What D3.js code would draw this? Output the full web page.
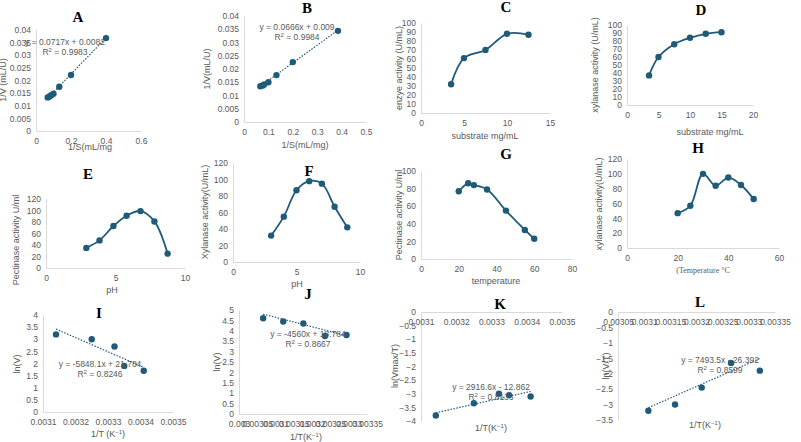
<!DOCTYPE html>
<html><head><meta charset="utf-8">
<script src="https://cdn.jsdelivr.net/npm/d3@7"></script>
<style>body{margin:0;background:#fff}svg{display:block}</style>
</head><body>
<script>
// ---- data ----
const aX=[0.067,0.077,0.087,0.1,0.133,0.2,0.4], aY=[0.0133,0.0137,0.0142,0.0148,0.0175,0.0222,0.0368];
const bX=[0.067,0.077,0.083,0.1,0.133,0.2,0.385], bY=[0.0135,0.0138,0.0142,0.015,0.0177,0.0226,0.0344];
const cX=[3.5,5,7.5,10,12.5], cY=[32,61,70,88,87];
const dX=[3.5,5,7.5,10,12.5,15], dY=[37,60,76,84,89,91];
const eX=[2.9,3.85,4.85,5.8,6.8,7.8,8.75], eY=[35,48,73,91,99,81,25];
const fX=[3,4,5,6,7,8,9], fY=[32,55,87,98,95,67,42];
const gX=[20,25,28,35,45,55,60], gY=[77,86,84,79,55,33,23];
const hX=[20,25,30,35,40,45,50], hY=[47,57,100,84,95,85,66];
const iX=[0.00314,0.00325,0.00332,0.00335,0.00341], iY=[3.2,3.0,2.7,1.9,1.7];
const jX=[0.003066,0.003121,0.003176,0.003235,0.003294], jY=[4.6,4.45,4.35,3.75,3.8];
const kX=[0.003142,0.00325,0.003321,0.00335,0.003411], kY=[-3.8,-3.35,-3.0,-3.05,-3.1];
const lX=[0.003108,0.003159,0.00321,0.003266,0.003321], lY=[-3.2,-3.0,-2.45,-1.65,-1.9];
const aTicksX=[0,0.2,0.4,0.6], aTicksY=[0,0.005,0.01,0.015,0.02,0.025,0.03,0.035,0.04];
const bTicksX=[0,0.1,0.2,0.3,0.4,0.5];
const cTicksX=[0,5,10,15], dTicksX=[0,5,10,15,20], pct100=[0,10,20,30,40,50,60,70,80,90,100];
const phTicks=[0,5,10], t120=[0,20,40,60,80,100,120], t100=[0,20,40,60,80,100];
const gTicksX=[0,20,40,60,80], hTicksX=[0,20,40,60];
const iTicksX=[0.0031,0.0032,0.0033,0.0034,0.0035], iTicksY=[0,0.5,1,1.5,2,2.5,3,3.5,4];
const jTicksX=[0.003,0.00305,0.0031,0.00315,0.0032,0.00325,0.0033,0.00335], jTicksY=[0,0.5,1,1.5,2,2.5,3,3.5,4,4.5,5];
const kTicksY=[-4,-3.5,-3,-2.5,-2,-1.5,-1,-0.5,0], lTicksX=[0.00305,0.0031,0.00315,0.0032,0.00325,0.0033,0.00335], lTicksY=[-3.5,-3,-2.5,-2,-1.5,-1,-0.5,0];
const trendA=[0.0717,0.0082], trendB=[0.0666,0.009], trendI=[-5848.1,21.784], trendJ=[-4560,18.784], trendK=[2916.6,-12.862], trendL=[7493.5,-26.392];

const C="#1f5b78", GR="#595959";
const svg=d3.select("body").append("svg").attr("width",801).attr("height",442).style("font-family","Liberation Sans, Arial");

function panel(o){
  const x=d3.scaleLinear().domain(o.xd).range([o.l,o.r]);
  const y=d3.scaleLinear().domain(o.yd).range([o.b,o.t]);
  const g=svg.append("g");
  const ya=g.append("g").attr("transform",`translate(${o.l},0)`).call(d3.axisLeft(y).tickValues(o.yt).tickSize(0).tickPadding(5).tickFormat(d=>d3.format("")(+d.toFixed(4))));
  const xa=g.append("g").attr("transform",`translate(0,${y(o.xAt||0)})`).call(d3.axisBottom(x).tickValues(o.xt).tickSize(0).tickPadding(o.xpad||7).tickFormat(d=>d3.format("")(+d.toFixed(5))));
  [ya,xa].forEach(a=>{a.select(".domain").attr("stroke","#d9d9d9");a.selectAll("text").attr("fill",GR).style("font-size","8.5px").style("font-family","Liberation Sans, Arial");});
  if(o.curve){g.append("path").datum(o.X.map((v,i)=>[v,o.Y[i]])).attr("fill","none").attr("stroke",C).attr("stroke-width",1.8)
    .attr("d",d3.line().x(d=>x(d[0])).y(d=>y(d[1])).curve(d3.curveCatmullRom.alpha(0.5)));}
  if(o.trend){const x0=d3.min(o.X),x1=d3.max(o.X);
    g.append("line").attr("x1",x(x0)).attr("x2",x(x1)).attr("y1",y(o.trend[0]*x0+o.trend[1])).attr("y2",y(o.trend[0]*x1+o.trend[1]))
      .attr("stroke",C).attr("stroke-width",1.2).attr("stroke-dasharray","1.5,1.5");}
  g.selectAll("circle").data(o.X).join("circle").attr("cx",d=>x(d)).attr("cy",(d,i)=>y(o.Y[i])).attr("r",3.2).attr("fill",C);
  if(o.eq){g.append("text").attr("x",o.eq[0]).attr("y",o.eq[1]).attr("text-anchor","middle").attr("fill",GR).style("font-size","8.5px").text(o.eq[2]);
    const r=g.append("text").attr("x",o.eq[0]).attr("y",o.eq[1]+10).attr("text-anchor","middle").attr("fill",GR).style("font-size","8.5px");
    r.append("tspan").text("R");r.append("tspan").attr("dy",-3).style("font-size","6px").text("2");r.append("tspan").attr("dy",3).text(" = "+o.eq[3]);}
  g.append("text").attr("x",o.title[0]).attr("y",o.title[1]).attr("text-anchor","middle").style("font-family","Liberation Serif, Times New Roman").style("font-weight","bold").style("font-size","15px").text(o.title[2]);
  const xl=g.append("text").attr("x",o.xl[0]).attr("y",o.xl[1]).attr("text-anchor","middle").attr("fill",GR).style("font-size","9px");
  if(o.serifX) xl.style("font-family","Liberation Serif").style("font-size","8px");
  if(o.xl[3]){xl.append("tspan").text(o.xl[2]);xl.append("tspan").attr("dy",-3).style("font-size","6px").text("−1");xl.append("tspan").attr("dy",3).text(")");}
  else xl.text(o.xl[2]);
  g.append("text").attr("transform",`translate(${o.yl[0]},${o.yl[1]}) rotate(-90)`).attr("text-anchor","middle").attr("fill",GR).style("font-size","9px").text(o.yl[2]);
}

panel({l:36,r:141,t:30,b:131,xd:[0,0.6],yd:[0,0.04],xt:aTicksX,yt:aTicksY,X:aX,Y:aY,trend:trendA,eq:[65,45,"y = 0.0717x + 0.0082","0.9983"],title:[78,22,"A"],xl:[90,150,"1/S(mL/mg"],yl:[6,80,"1/V (mL/U)"]});
panel({l:244,r:366,t:16,b:122,xd:[0,0.5],yd:[0,0.04],xt:bTicksX,yt:aTicksY,X:bX,Y:bY,trend:trendB,eq:[297,30,"y = 0.0666x + 0.009","0.9984"],title:[307,13,"B"],xl:[305,148,"1/S(mL/mg)"],yl:[210,69,"1/V(mL/U)"]});
panel({l:421,r:550,t:23,b:113,xd:[0,15],yd:[0,100],xt:cTicksX,yt:pct100,X:cX,Y:cY,curve:true,title:[506,12,"C"],xl:[485,139,"substrate mg/mL"],yl:[402,68,"enzye activity (U/mL)"]});
panel({l:627,r:753,t:25,b:105,xd:[0,20],yd:[0,100],xt:dTicksX,yt:pct100,X:dX,Y:dY,curve:true,title:[701,15,"D"],xl:[710,135,"substrate mg/mL"],yl:[598,65,"xylanase activity (U/mL)"]});
panel({l:46,r:185,t:199,b:268,xd:[0,10],yd:[0,120],xt:phTicks,yt:t120,X:eX,Y:eY,curve:true,title:[88,179,"E"],xl:[112,293,"pH"],yl:[19,240,"Pectinase activity U/ml"]});
panel({l:233,r:360,t:163,b:262,xd:[0,10],yd:[0,120],xt:phTicks,yt:t120,X:fX,Y:fY,curve:true,title:[309,176,"F"],xl:[297,287,"pH"],yl:[208,212,"Xylanase activity(U/mL)"]});
panel({l:421,r:572,t:171,b:259,xd:[0,80],yd:[0,100],xt:gTicksX,yt:t100,X:gX,Y:gY,curve:true,title:[506,159,"G"],xl:[496,284,"temperature"],yl:[402,215,"Pectinase activity U/ml"]});
panel({l:627,r:779,t:159,b:248,xd:[0,60],yd:[0,120],xt:hTicksX,yt:t120,X:hX,Y:hY,curve:true,title:[698,153,"H"],xl:[703,273,"(Temperature °C"],serifX:true,yl:[602,204,"xylanase activity(U/mL)"]});
panel({l:43,r:173,t:315,b:412,xd:[0.0031,0.0035],yd:[0,4],xt:iTicksX,yt:iTicksY,X:iX,Y:iY,trend:trendI,eq:[100,367,"y = -5848.1x + 21.784","0.8246"],title:[99,318,"I"],xl:[108,437,"1/T (K",true],yl:[20,364,"ln(V)"]});
panel({l:239,r:367,t:310,b:414,xd:[0.003,0.00335],yd:[0,5],xt:jTicksX,yt:jTicksY,X:jX,Y:jY,trend:trendJ,eq:[308,337,"y = -4560x + 18.784","0.8667"],title:[308,299,"J"],xl:[306,440,"1/T(K",true],yl:[220,362,"ln(V)"]});
panel({l:421,r:562,t:312,b:421,xd:[0.0031,0.0035],yd:[-4,0],xt:iTicksX,yt:kTicksY,X:kX,Y:kY,trend:trendK,eq:[491,390,"y = 2916.6x - 12.862","0.8133"],title:[500,309,"K"],xl:[491,431,"1/T(K",true],yl:[398,366,"ln(Vmax/T)"]});
panel({l:618,r:775,t:312,b:420,xd:[0.00305,0.00335],yd:[-3.5,0],xt:lTicksX,yt:lTicksY,X:lX,Y:lY,trend:trendL,eq:[720,363,"y = 7493.5x - 26.392","0.8599"],title:[700,307,"L"],xl:[705,428,"1/T(K",true],yl:[609,366,"ln(V/T)"]});
</script>
</body></html>
